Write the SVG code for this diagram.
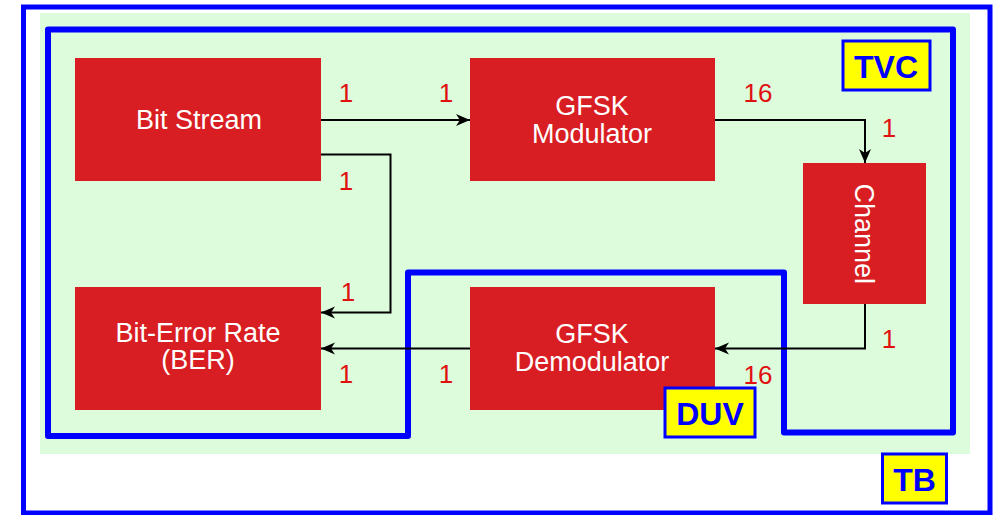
<svg xmlns="http://www.w3.org/2000/svg" width="997" height="515" viewBox="0 0 997 515">
<style>
.blk{fill:#d81e22}
.wt{fill:#ffffff;font-family:"Liberation Sans",Arial,sans-serif;font-size:27px;text-anchor:middle}
.num{fill:#e01010;font-family:"Liberation Sans",Arial,sans-serif;font-size:26px;text-anchor:middle}
.tag rect{fill:#ffff00;stroke:#0000ff;stroke-width:3}
.tag text{fill:#0000ff;font-family:"Liberation Sans",Arial,sans-serif;font-size:32px;font-weight:bold;text-anchor:middle}
.wire{fill:none;stroke:#000;stroke-width:2;marker-end:url(#ah)}
.frame{fill:none;stroke:#0000ff;stroke-width:6;stroke-linejoin:round}
</style>
<defs>
<marker id="ah" markerUnits="userSpaceOnUse" markerWidth="16" markerHeight="14" refX="14" refY="6" orient="auto">
<path d="M0,0 L14,6 L0,12 L4,6 Z" fill="#000"/>
</marker>
</defs>
<rect x="0" y="0" width="997" height="515" fill="#ffffff"/>
<g id="tb-frame">
<rect x="23.5" y="7" width="966.5" height="506" fill="#ffffff" stroke="#0000ff" stroke-width="5"/>
<rect x="40" y="13" width="930" height="441" fill="#dcfcdc"/>
</g>
<g id="tvc-frame">
<path class="frame" d="M48,29.5 L953,29.5 L953,432.5 L784,432.5 L784,272.5 L408,272.5 L408,436 L48,436 Z"/>
</g>
<g id="connectors">
<path class="wire" d="M321,120 L470,120"/>
<path class="wire" d="M321,154.5 L390.5,154.5 L390.5,312.5 L321,312.5"/>
<path class="wire" d="M715,120 L865,120 L865,163"/>
<path class="wire" d="M865,304 L865,348.5 L715,348.5"/>
<path class="wire" d="M470,348.5 L321,348.5"/>
</g>
<g id="bit-stream">
<rect class="blk" x="75" y="58" width="246" height="123"/>
<text class="wt" x="199" y="129">Bit Stream</text>
</g>
<g id="gfsk-modulator">
<rect class="blk" x="470" y="58" width="245" height="123"/>
<text class="wt" x="592" y="115">GFSK</text>
<text class="wt" x="592" y="143">Modulator</text>
</g>
<g id="channel">
<rect class="blk" x="803" y="163" width="123" height="141"/>
<text class="wt" transform="translate(864.5,233.8) rotate(90)" x="0" y="9.7">Channel</text>
</g>
<g id="ber">
<rect class="blk" x="75" y="287" width="246" height="123"/>
<text class="wt" x="198" y="342">Bit-Error Rate</text>
<text class="wt" x="198" y="369">(BER)</text>
</g>
<g id="gfsk-demodulator">
<rect class="blk" x="470" y="287" width="245" height="123"/>
<text class="wt" x="592" y="343">GFSK</text>
<text class="wt" x="592" y="371">Demodulator</text>
</g>
<g id="port-labels">
<text class="num" x="346" y="102">1</text>
<text class="num" x="446" y="102">1</text>
<text class="num" x="346" y="190">1</text>
<text class="num" x="758" y="102">16</text>
<text class="num" x="889" y="137">1</text>
<text class="num" x="348" y="301">1</text>
<text class="num" x="346" y="383">1</text>
<text class="num" x="446" y="383">1</text>
<text class="num" x="889" y="348">1</text>
<text class="num" x="758" y="384">16</text>
</g>
<g id="tvc-tag" class="tag">
<rect x="843" y="41" width="87" height="49"/>
<text x="886" y="78">TVC</text>
</g>
<g id="duv-tag" class="tag">
<rect x="665" y="388" width="90" height="49"/>
<text x="710" y="425">DUV</text>
</g>
<g id="tb-tag" class="tag">
<rect x="882.5" y="454" width="64" height="49"/>
<text x="914.5" y="491">TB</text>
</g>
</svg>
